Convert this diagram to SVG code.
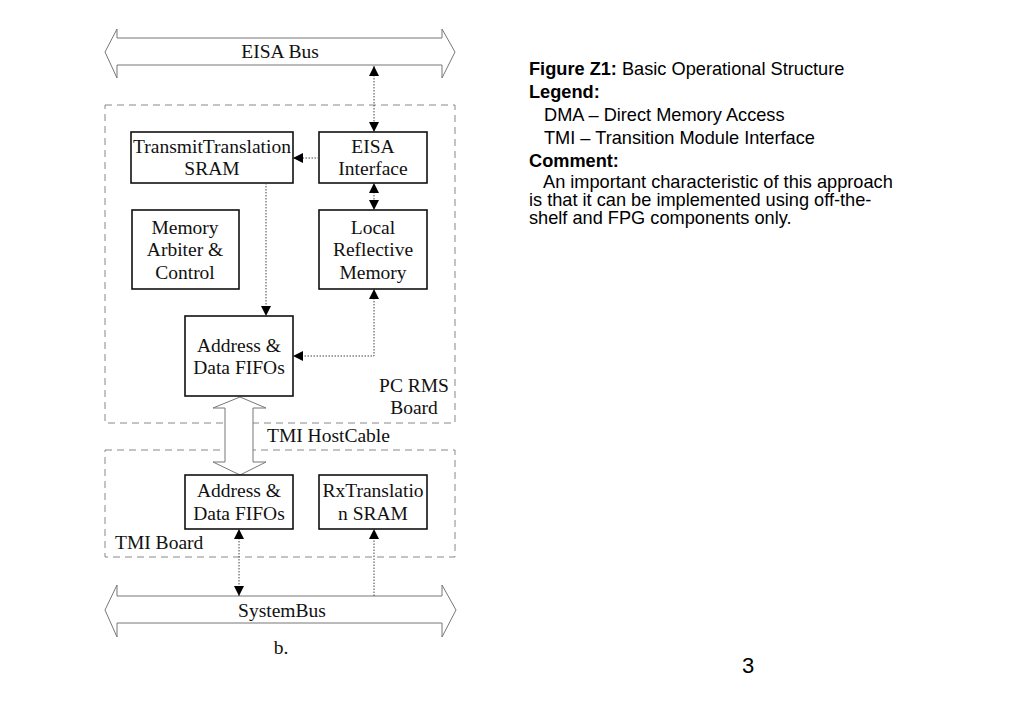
<svg xmlns="http://www.w3.org/2000/svg" width="1023" height="708" viewBox="0 0 1023 708">
<style>
.box{fill:#fff;stroke:#111;stroke-width:1.6}
.board{fill:none;stroke:#888;stroke-width:1;stroke-dasharray:7,5}
.bus{fill:#fff;stroke:#777;stroke-width:1}
.t{font-family:"Liberation Serif","Times New Roman",serif;font-size:19.5px;fill:#111;text-anchor:middle}
.tl{font-family:"Liberation Serif","Times New Roman",serif;font-size:19.5px;fill:#111}
.c{fill:none;stroke:#444;stroke-width:1;stroke-dasharray:1.5,1.5}
.s{font-family:"Liberation Sans",Arial,sans-serif;font-size:18.2px;fill:#000}
.b{font-weight:bold}
</style>
<defs>
<marker id="ah" viewBox="0 0 10 10" refX="10" refY="5" markerWidth="10" markerHeight="10" markerUnits="userSpaceOnUse" orient="auto-start-reverse">
<path d="M0,0 L10,5 L0,10 Z" fill="#000"/>
</marker>
</defs>
<rect width="1023" height="708" fill="#fff"/>

<g id="boards">
<rect class="board" x="105" y="105" width="350" height="318"/>
<rect class="board" x="105" y="450" width="350" height="107"/>
</g>

<g id="eisa-bus">
<path class="bus" d="M105,52 L117,29 L117,38 L442,38 L442,29 L455,52 L442,78 L442,65 L117,65 L117,78 Z"/>
<text class="t" x="280" y="58">EISA Bus</text>
</g>

<g id="system-bus">
<path class="bus" d="M105,610 L117,585 L117,596 L442,596 L442,585 L456,610 L442,637 L442,623 L117,623 L117,637 Z"/>
<text class="t" x="282" y="617">SystemBus</text>
</g>

<g id="host-cable">
<path class="bus" d="M240,397 L266,408 L253,408 L253,462 L266,462 L240,475 L213,462 L225,462 L225,408 L213,408 Z"/>
</g>

<g id="transmit-sram">
<rect class="box" x="131" y="132" width="162" height="51"/>
<text class="t" x="212" y="153">TransmitTranslation</text>
<text class="t" x="212" y="175">SRAM</text>
</g>

<g id="eisa-interface">
<rect class="box" x="319" y="132" width="108" height="51"/>
<text class="t" x="373" y="153">EISA</text>
<text class="t" x="373" y="175">Interface</text>
</g>

<g id="memory-arbiter">
<rect class="box" x="132" y="210" width="107" height="79"/>
<text class="t" x="185" y="234">Memory</text>
<text class="t" x="185" y="256">Arbiter &amp;</text>
<text class="t" x="185" y="279">Control</text>
</g>

<g id="local-memory">
<rect class="box" x="319" y="210" width="108" height="79"/>
<text class="t" x="373" y="234">Local</text>
<text class="t" x="373" y="256">Reflective</text>
<text class="t" x="373" y="279">Memory</text>
</g>

<g id="fifo-top">
<rect class="box" x="185" y="316" width="108" height="80"/>
<text class="t" x="239" y="352">Address &amp;</text>
<text class="t" x="239" y="374">Data FIFOs</text>
</g>

<g id="fifo-bottom">
<rect class="box" x="185" y="475" width="108" height="54"/>
<text class="t" x="239" y="497">Address &amp;</text>
<text class="t" x="239" y="520">Data FIFOs</text>
</g>

<g id="rx-sram">
<rect class="box" x="319" y="475" width="108" height="54"/>
<text class="t" x="373" y="497">RxTranslatio</text>
<text class="t" x="373" y="520">n SRAM</text>
</g>

<g id="labels">
<text class="t" x="414" y="392">PC RMS</text>
<text class="t" x="414" y="414">Board</text>
<text class="tl" x="267" y="442">TMI HostCable</text>
<text class="tl" x="115" y="549">TMI Board</text>
<text class="t" x="281" y="654">b.</text>
</g>

<g id="connectors">
<line class="c" x1="374" y1="66" x2="374" y2="132" marker-start="url(#ah)" marker-end="url(#ah)"/>
<line class="c" x1="319" y1="158" x2="293" y2="158" marker-end="url(#ah)"/>
<line class="c" x1="374" y1="183" x2="374" y2="210" marker-start="url(#ah)" marker-end="url(#ah)"/>
<line class="c" x1="266" y1="183" x2="266" y2="316" marker-end="url(#ah)"/>
<polyline class="c" points="374,289 374,356 293,356" marker-start="url(#ah)" marker-end="url(#ah)"/>
<line class="c" x1="239" y1="529" x2="239" y2="596" marker-start="url(#ah)" marker-end="url(#ah)"/>
<line class="c" x1="374" y1="596" x2="374" y2="529" marker-end="url(#ah)"/>
</g>

<g id="legend">
<text class="s" x="529" y="75"><tspan class="b">Figure Z1:</tspan> Basic Operational Structure</text>
<text class="s b" x="529" y="98">Legend:</text>
<text class="s" x="544" y="121">DMA – Direct Memory Access</text>
<text class="s" x="544" y="144">TMI – Transition Module Interface</text>
<text class="s b" x="529" y="167">Comment:</text>
<text class="s" x="543" y="188">An important characteristic of this approach</text>
<text class="s" x="529" y="206">is that it can be implemented using off-the-</text>
<text class="s" x="529" y="224">shelf and FPG components only.</text>
<text x="748" y="673" style="font-family:'Liberation Sans',Arial,sans-serif;font-size:22px;fill:#000;text-anchor:middle">3</text>
</g>
</svg>
